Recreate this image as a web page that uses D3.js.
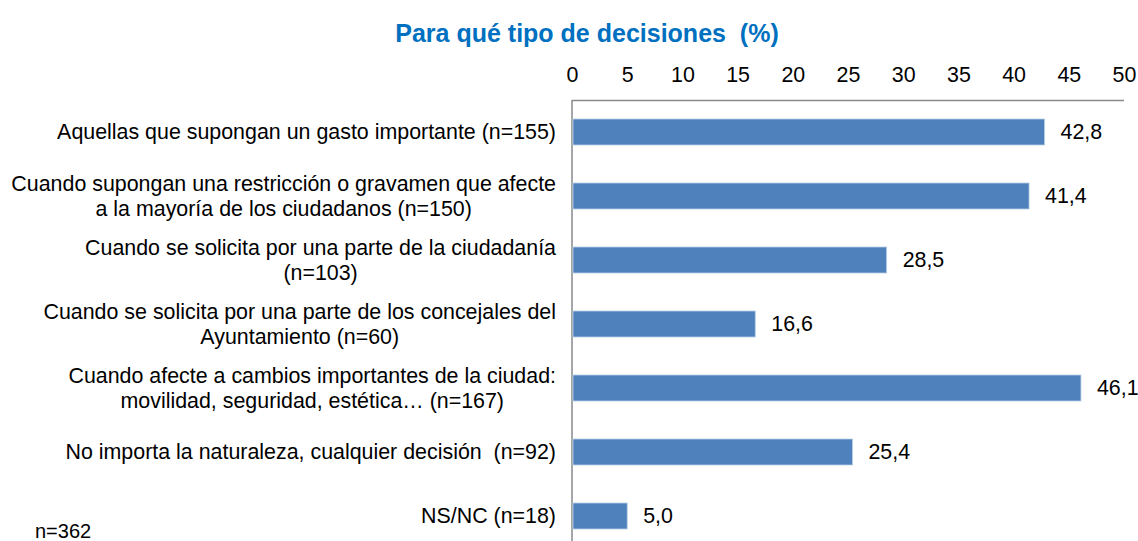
<!DOCTYPE html>
<html>
<head>
<meta charset="utf-8">
<script src="https://cdn.jsdelivr.net/npm/d3@7"></script>
<style>
  html, body { margin: 0; padding: 0; background: #fff; }
  svg text { font-family: Arial, "Liberation Sans", sans-serif; white-space: pre; }
</style>
</head>
<body>
<svg id="chart" width="1138" height="541"></svg>
<script>
// ---- data ----
const categories = [
  ["Aquellas que supongan un gasto importante (n=155)"],
  ["Cuando supongan una restricción o gravamen que afecte", "a la mayoría de los ciudadanos (n=150)"],
  ["Cuando se solicita por una parte de la ciudadanía", "(n=103)"],
  ["Cuando se solicita por una parte de los concejales del", "Ayuntamiento (n=60)"],
  ["Cuando afecte a cambios importantes de la ciudad:", "movilidad, seguridad, estética… (n=167)"],
  ["No importa la naturaleza, cualquier decisión  (n=92)"],
  ["NS/NC (n=18)"]
];
const values = [42.8, 41.4, 28.5, 16.6, 46.1, 25.4, 5.0];
const xTicks = [0, 5, 10, 15, 20, 25, 30, 35, 40, 45, 50];
const title = "Para qué tipo de decisiones  (%)";
const footnote = "n=362";

const svg = d3.select("#chart");
const FONT = 21.4, LINE_H = 25;
const X0 = 572, X1 = 1124, TOP = 100;

const x = d3.scaleLinear().domain([0, 50]).range([X0, X1]);
const y = d3.scaleBand()
  .domain(d3.range(categories.length))
  .range([TOP, TOP + 64 * categories.length])
  .paddingInner(38 / 64)
  .paddingOuter(19 / 64);

// title
svg.append("text")
  .attr("x", 587).attr("y", 42)
  .attr("text-anchor", "middle")
  .attr("font-size", 25).attr("font-weight", "bold")
  .attr("fill", "#0070C0")
  .text(title);

// top axis (labels only)
const xAxis = d3.axisTop(x).tickValues(xTicks).tickSize(0).tickPadding(0).tickFormat(d3.format("d"));
const gx = svg.append("g").attr("transform", `translate(0,${TOP - 18})`).call(xAxis);
gx.select(".domain").remove();
gx.selectAll("text").attr("font-size", FONT).attr("fill", "#000")
  .attr("font-family", "Arial, 'Liberation Sans', sans-serif");

// frame lines
svg.append("line").attr("x1", X0).attr("x2", X1).attr("y1", TOP + 0.5).attr("y2", TOP + 0.5)
  .attr("stroke", "#898989").attr("stroke-width", 1.5);
svg.append("line").attr("x1", X0).attr("x2", X0).attr("y1", TOP).attr("y2", 541)
  .attr("stroke", "#898989").attr("stroke-width", 1.5);

// bars
svg.append("g").selectAll("rect").data(values).join("rect")
  .attr("x", X0 + 1)
  .attr("y", (d, i) => y(i))
  .attr("width", d => x(d) - X0 - 1)
  .attr("height", y.bandwidth())
  .attr("fill", "#4F81BD")
  .attr("stroke", "#B9CDE5").attr("stroke-width", 0.8);

// value labels
svg.append("g").selectAll("text").data(values).join("text")
  .attr("x", d => x(d) + 16)
  .attr("y", (d, i) => y(i) + y.bandwidth() / 2)
  .attr("dy", "0.35em")
  .attr("font-size", FONT).attr("fill", "#000")
  .text(d => d3.format(".1f")(d).replace(".", ","));

// category labels: block right-aligned, lines centred inside block
const gl = svg.append("g");
categories.forEach((lines, i) => {
  const cy = y(i) + y.bandwidth() / 2;
  const t = gl.append("g");
  const texts = lines.map((ln, j) => t.append("text")
    .attr("y", cy + (j - (lines.length - 1) / 2) * LINE_H)
    .attr("dy", "0.35em")
    .attr("font-size", FONT).attr("fill", "#000")
    .attr("text-anchor", "middle")
    .text(ln));
  const w = d3.max(texts, s => s.node().getComputedTextLength());
  texts.forEach(s => s.attr("x", 556 - w / 2));
});

// footnote
svg.append("text").attr("x", 35).attr("y", 538)
  .attr("font-size", 20).attr("fill", "#000").text(footnote);
</script>
</body>
</html>
